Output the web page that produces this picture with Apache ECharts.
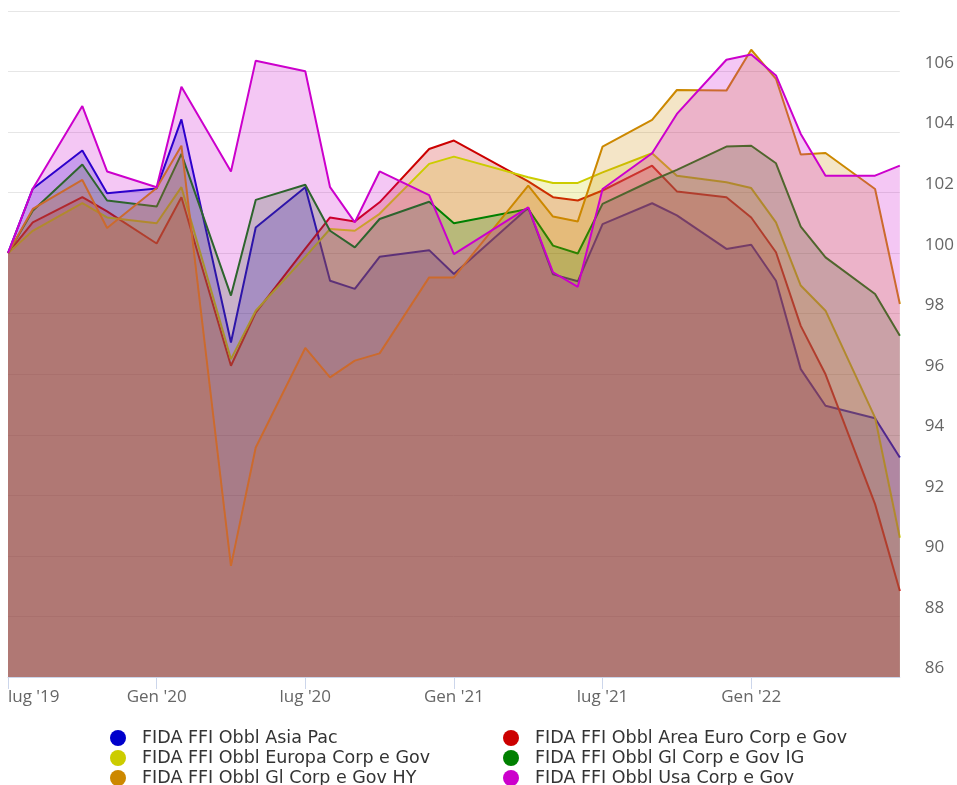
<!DOCTYPE html>
<html lang="it">

<head>
  <meta charset="UTF-8" />
  <title>FIDA FFI Obbligazionari</title>
  <script src="https://cdn.jsdelivr.net/npm/echarts@6/dist/echarts.min.js"></script>
</head>

<body style="margin: 0; overflow: hidden; background: #fff;">
  <div id="panel" style="width: 957px; height: 785px;"></div>
  <script>
    // mesi da lug 2019 a lug 2022 (null = nessun dato in quel mese)
    var months = ['2019-07', '2019-08', '2019-09', '2019-10', '2019-11', '2019-12',
      '2020-01', '2020-02', '2020-03', '2020-04', '2020-05', '2020-06',
      '2020-07', '2020-08', '2020-09', '2020-10', '2020-11', '2020-12',
      '2021-01', '2021-02', '2021-03', '2021-04', '2021-05', '2021-06',
      '2021-07', '2021-08', '2021-09', '2021-10', '2021-11', '2021-12',
      '2022-01', '2022-02', '2022-03', '2022-04', '2022-05', '2022-06', '2022-07'];
    var tickLabels = ["lug '19", "Gen '20", "lug '20", "Gen '21", "lug '21", "Gen '22"];

    var asiaPac = [100, 102.13, null, 103.39, 101.98, null, 102.14, 104.42, null, 97.05, 100.85, null,
      102.18, 99.09, 98.82, 99.88, null, 100.1, 99.31, null, null, 101.5, 99.3, 99.07,
      100.96, null, 101.65, 101.25, null, 100.14, 100.28, 99.09, 96.17, 94.96, null, 94.55, 93.25];
    var areaEuro = [100, 101.02, null, 101.85, 101.38, null, 100.32, 101.85, null, 96.28, 98.04, null,
      100.15, 101.18, 101.05, 101.68, null, 103.44, 103.72, null, null, 102.37, 101.85, 101.74,
      102.07, null, 102.89, 102.04, null, 101.85, 101.18, 100.03, 97.6, 96.0, null, 91.71, 88.84];
    var europa = [100, 100.74, null, 101.65, 101.18, null, 100.99, 102.18, null, 96.5, 98.1, null,
      99.88, 100.8, 100.74, 101.3, null, 102.95, 103.19, null, null, 102.51, 102.32, 102.32,
      102.67, null, 103.3, 102.56, null, 102.34, 102.15, 101.02, 98.93, 98.1, null, 94.57, 90.6];
    var glIG = [100, 101.4, null, 102.93, 101.74, null, 101.54, 103.28, null, 98.6, 101.76, null,
      102.26, 100.74, 100.19, 101.13, null, 101.7, 100.99, null, null, 101.46, 100.25, 99.99,
      101.63, null, 102.4, 102.75, null, 103.52, 103.55, 102.97, 100.88, 99.86, null, 98.65, 97.27];
    var glHY = [100, 101.46, null, 102.42, 100.83, null, 102.15, 103.55, null, 89.67, 93.58, null,
      96.87, 95.9, 96.45, 96.69, null, 99.2, 99.2, null, null, 102.23, 101.21, 101.05,
      103.52, null, 104.4, 105.39, null, 105.37, 106.72, 105.76, 103.26, 103.31, null, 102.12, 98.32];
    var usa = [100, 102.13, null, 104.86, 102.7, null, 102.18, 105.5, null, 102.7, 106.36, null,
      106.01, 102.18, 101.02, 102.7, null, 101.92, 99.97, null, null, 101.51, 99.37, 98.89,
      102.12, null, 103.3, 104.6, null, 106.39, 106.56, 105.87, 103.94, 102.56, null, 102.56, 102.89];

    var names = ['FIDA FFI Obbl Asia Pac', 'FIDA FFI Obbl Area Euro Corp e Gov',
      'FIDA FFI Obbl Europa Corp e Gov', 'FIDA FFI Obbl Gl Corp e Gov IG',
      'FIDA FFI Obbl Gl Corp e Gov HY', 'FIDA FFI Obbl Usa Corp e Gov'];
    var colors = ['#0000cc', '#cc0000', '#cccc00', '#008000', '#cc8800', '#cc00cc'];
    var values = [asiaPac, areaEuro, europa, glIG, glHY, usa];

    function everySix(idx) {
      return idx % 6 === 0 && idx < 36;
    }

    var ellipse = 'path://M0,10A10,10 0 1,1 20,10A10,10 0 1,1 0,10Z';
    var legendBase = {
      orient: 'vertical',
      top: 729,
      height: 60,
      padding: 0,
      icon: ellipse,
      itemWidth: 20,
      itemHeight: 16,
      itemGap: 2,
      selectedMode: false,
      textStyle: {
        fontFamily: 'DejaVu Sans', fontSize: 17.5, color: '#333',
        lineHeight: 17, padding: [0, 0, 0, 9]
      }
    };

    var myChart = echarts.init(document.getElementById('panel'));

    var option = {
      animation: false,
      textStyle: { fontFamily: 'Open Sans' },
      grid: { left: 8, right: 57, top: 11, bottom: 108 },
      legend: [
        Object.assign({}, legendBase, { left: 110, data: [names[0], names[2], names[4]] }),
        Object.assign({}, legendBase, { left: 503, data: [names[1], names[3], names[5]] })
      ],
      xAxis: {
        type: 'category',
        data: months,
        boundaryGap: false,
        axisLine: { lineStyle: { color: '#ccd6eb' } },
        axisTick: { interval: everySix, length: 12, lineStyle: { color: '#ccd6eb' } },
        axisLabel: {
          interval: everySix,
          formatter: function (value, index) { return tickLabels[index / 6]; },
          color: '#666',
          fontSize: 17,
          margin: 12,
          alignMinLabel: 'left'
        },
        splitLine: { show: false }
      },
      yAxis: {
        type: 'value',
        position: 'right',
        min: 86,
        max: 108,
        interval: 2,
        axisLine: { show: false },
        axisTick: { show: false },
        splitLine: { lineStyle: { color: '#e6e6e6' } },
        axisLabel: {
          showMaxLabel: false,
          color: '#666',
          fontSize: 17,
          margin: 25,
          align: 'left',
          verticalAlign: 'bottom'
        }
      },
      series: values.map(function (data, i) {
        return {
          name: names[i],
          type: 'line',
          z: 2 + i,
          data: data,
          connectNulls: true,
          symbol: 'none',
          color: colors[i],
          lineStyle: { width: 2, color: colors[i] },
          areaStyle: { color: colors[i], opacity: 0.22, origin: 'start' }
        };
      })
    };

    myChart.setOption(option);
  </script>
</body>

</html>
